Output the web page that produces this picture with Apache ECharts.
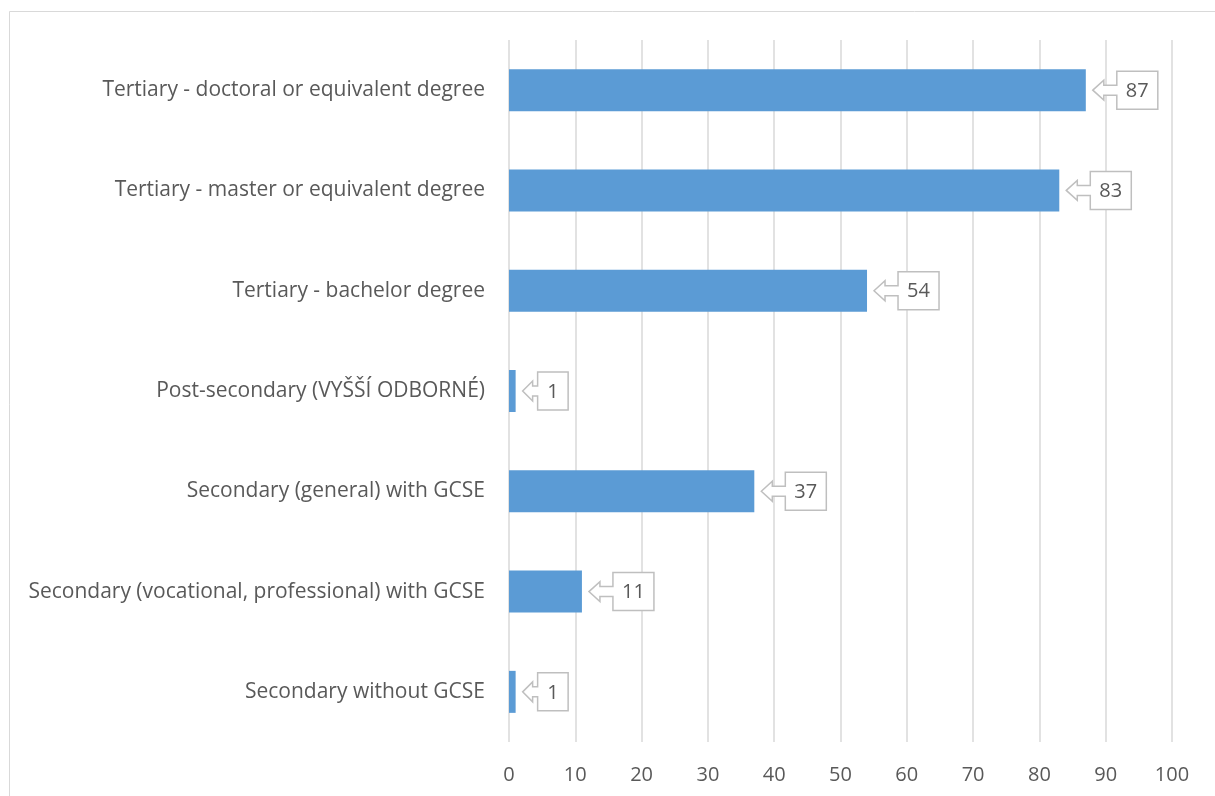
<!DOCTYPE html>
<html>
<head>
<meta charset="utf-8">
<script src="https://cdn.jsdelivr.net/npm/echarts@6/dist/echarts.min.js"></script>
<style>
html,body{margin:0;padding:0;background:#fff;}
#chart{width:1215px;height:796px;}
</style>
</head>
<body>
<div id="chart"></div>
<script>
const categories = [
  "Tertiary - doctoral or equivalent degree",
  "Tertiary - master or equivalent degree",
  "Tertiary - bachelor degree",
  "Post-secondary (VYŠŠÍ ODBORNÉ)",
  "Secondary (general) with GCSE",
  "Secondary (vocational, professional) with GCSE",
  "Secondary without GCSE"
];
const values = [87, 83, 54, 1, 37, 11, 1];
const xTicks = [0, 10, 20, 30, 40, 50, 60, 70, 80, 90, 100];

const FONT = "'Open Sans', 'Noto Sans', sans-serif";
const TXT = '#595959';

const chart = echarts.init(document.getElementById('chart'));
const calloutData = values.map((v, i) => [v, i]);

chart.setOption({
  animation: false,
  backgroundColor: '#ffffff',
  graphic: [{
    type: 'rect',
    shape: {x: 9.5, y: 11.5, width: 1300, height: 900},
    style: {fill: 'none', stroke: '#d9d9d9', lineWidth: 1},
    silent: true
  }],
  grid: {left: 509, right: 43, top: 40, height: 702},
  xAxis: {
    type: 'value',
    min: xTicks[0],
    max: xTicks[xTicks.length - 1],
    interval: 10,
    axisLine: {show: false},
    axisTick: {show: false},
    splitLine: {show: true, lineStyle: {color: '#d9d9d9', width: 1.5}},
    axisLabel: {color: TXT, fontSize: 20, fontFamily: FONT, margin: 23}
  },
  yAxis: {
    type: 'category',
    data: categories,
    inverse: true,
    axisLine: {show: false},
    axisTick: {show: false},
    axisLabel: {color: TXT, fontSize: 21, fontFamily: FONT, margin: 24, lineHeight: 26, padding: [4, 0, 0, 0]}
  },
  series: [{
    type: 'bar',
    data: values,
    barWidth: 42,
    itemStyle: {color: '#5b9bd5'},
    z: 2
  }, {
    type: 'custom',
    data: calloutData,
    encode: {x: 0, y: 1},
    z: 5,
    renderItem: function (params, api) {
      const v = api.value(0);
      const pt = api.coord([v, api.value(1)]);
      const x0 = pt[0] + 7;
      const y = pt[1];
      const txt = String(v);
      const w = 20 + 10.5 * txt.length;
      const a = w < 35 ? 15 : 24;
      const h = w < 35 ? 10 : 11;
      const pts = [
        [x0, y], [x0 + h, y - 10], [x0 + h, y - 5], [x0 + a, y - 5],
        [x0 + a, y - 19], [x0 + a + w, y - 19], [x0 + a + w, y + 19],
        [x0 + a, y + 19], [x0 + a, y + 5], [x0 + h, y + 5], [x0 + h, y + 10]
      ];
      return {
        type: 'group',
        children: [{
          type: 'polygon',
          shape: {points: pts},
          style: {fill: '#ffffff', stroke: '#bfbfbf', lineWidth: 1.5}
        }, {
          type: 'text',
          x: x0 + a + w / 2,
          y: y + 1,
          style: {
            text: txt, fill: TXT, font: '20px ' + FONT,
            align: 'center', verticalAlign: 'middle'
          }
        }]
      };
    }
  }]
});
</script>
</body>
</html>
